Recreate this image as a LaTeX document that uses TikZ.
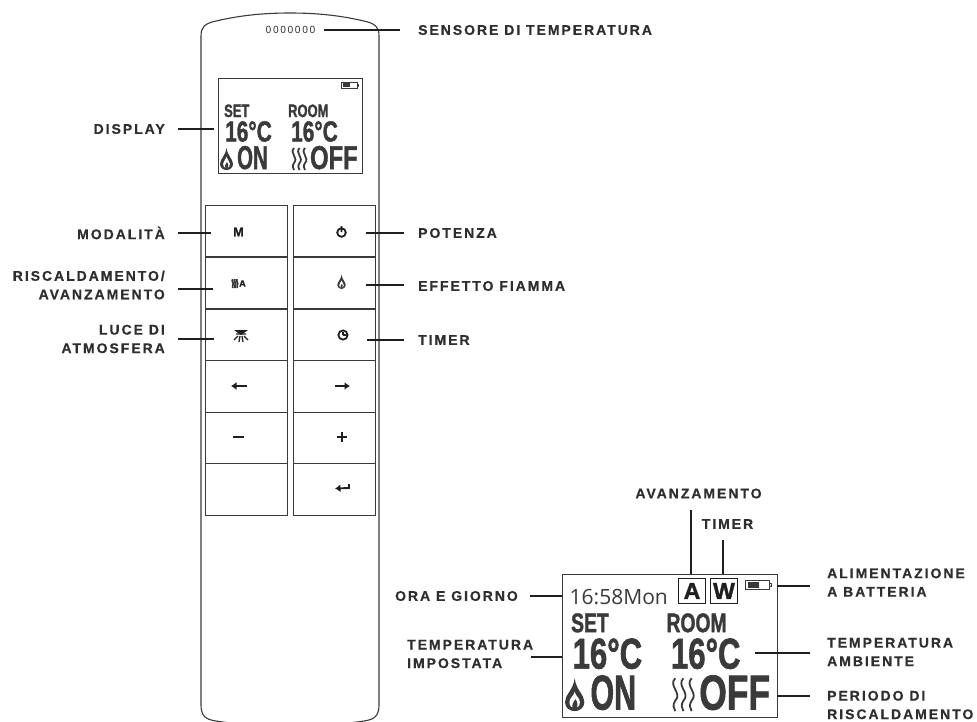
\documentclass[tikz,border=0pt]{standalone}
\usepackage{fontspec}
\usepackage{tikz}
\usetikzlibrary{arrows.meta,calc,positioning}
\setmainfont{Liberation Sans}
\newfontfamily\calloutfont[LetterSpace=14,BoldFeatures={FakeBold=0.5}]{Liberation Sans}
\newfontfamily\clockfont{Open Sans}
\newfontfamily\lcdfont[BoldFeatures={FakeBold=1.6}]{Liberation Sans}
\definecolor{RemoteInk}{HTML}{1F1F1F}
\definecolor{RemoteLine}{HTML}{3A3A3A}
\definecolor{RemoteLabel}{HTML}{2E2E2E}
\begin{document}
\begin{tikzpicture}[
      x=1pt,y=-1pt,
      callout/.style={inner sep=0pt,text=RemoteLabel,font=\calloutfont\bfseries\fontsize{14}{18.5}\selectfont},
      leader/.style={draw=RemoteInk,line width=1.5pt},
      keybox/.style={draw=RemoteLine,line width=0.9pt,minimum width=82pt,minimum height=51.5pt,inner sep=0pt},
      screen/.style={draw=RemoteLine,line width=1pt,anchor=north west,inner sep=0pt},
      digits/.style={anchor=base west,inner sep=0pt,transform shape,xscale=0.72,text=RemoteLine,font=\lcdfont\bfseries\fontsize{#1}{#1}\selectfont},
      tag/.style={draw=RemoteInk,line width=1.2pt,minimum width=27pt,minimum height=25pt,inner sep=0pt,text=RemoteInk,font=\lcdfont\bfseries\fontsize{23}{23}\selectfont},
      flame/.pic={
        \fill[RemoteLine] (0,-22) .. controls (1,-14) and (6.5,-11) .. (6.5,-6) .. controls (6.5,-2) and (3,0) .. (0,0) .. controls (-3,0) and (-6.5,-2) .. (-6.5,-6) .. controls (-6.5,-11) and (-1,-14) .. (0,-22) -- cycle;
        \fill[white] (0,-13) .. controls (0.5,-10) and (3.5,-9) .. (3.5,-6) .. controls (3.5,-3.5) and (2,-2) .. (0,-2) .. controls (-2,-2) and (-3.5,-3.5) .. (-3.5,-6) .. controls (-3.5,-9) and (-0.5,-10) .. (0,-13) -- cycle;
        \fill[RemoteLine] (0.5,-8) .. controls (2,-6) and (2.5,-4.5) .. (1,-1.5) -- (-1,-1.5) .. controls (-2.5,-3.5) and (-1,-6) .. (0.5,-8) -- cycle;
      },
      heat/.pic={
        \foreach \wavex in {0,5.5,11}
          \draw[RemoteLine,line width=1.8pt] (\wavex+2,-22) .. controls (\wavex-3,-17) and (\wavex+7,-12) .. (\wavex+2,-7) .. controls (\wavex,-4) and (\wavex+1,-2) .. (\wavex+2,0);
      },
      readout/.pic={
        \node[digits=18] (-set) at (6,39) {SET};
        \node[digits=18] (-room) at (70,39) {ROOM};
        \node[digits=29] (-setval) at (7,63.5) {16°C};
        \node[digits=29] (-roomval) at (73,63.5) {16°C};
        \node[digits=33,xscale=0.86] (-on) at (19,91) {ON};
        \node[digits=33] (-off) at (92,91) {OFF};
        \pic at (8.5,92) {flame};
        \pic at (74,92) {heat};
        \draw[RemoteLine,line width=0.7pt] (123,4) rectangle (139,10.5) (139,6) -- (140.5,6) -- (140.5,8.5) -- (139,8.5);
        \fill[RemoteLine] (124.5,5.2) rectangle (132,9.3);
      }
    ]
      \useasboundingbox (0,0) rectangle (977,721);

      % remote body
      \draw[RemoteLine,line width=1.1pt] (230,723) .. controls (212,720) and (201,722) .. (201,705) -- (201,36)
        .. controls (201,26) and (206,24) .. (212,22) .. controls (240,15) and (265,13) .. (290,13)
        .. controls (315,13) and (340,15) .. (368,22) .. controls (374,24) and (379,26) .. (379,36) -- (379,705)
        .. controls (379,722) and (368,720) .. (350,723);
      \node[inner sep=0pt,font=\clockfont\fontsize{10}{10}\selectfont,text=RemoteInk] (sensor) at (290.5,30) {0\kern1.6pt 0\kern1.6pt 0\kern1.6pt 0\kern1.6pt 0\kern1.6pt 0\kern1.6pt 0};

      % small display
      \node[screen,minimum width=144pt,minimum height=95pt] (smallscreen) at (218,78) {};
      \pic (small) at (218,78) {readout};

      % keys
      \node[keybox] (keymode) at (246.5,231) {};
      \node[keybox] (keyheat) at (246.5,283) {};
      \node[keybox] (keylight) at (246.5,335) {};
      \node[keybox] (keyleft) at (246.5,386.5) {};
      \node[keybox] (keyminus) at (246.5,438) {};
      \node[keybox] (keyblank) at (246.5,489.5) {};
      \node[keybox] (keypower) at (334,231) {};
      \node[keybox] (keyflame) at (334,283) {};
      \node[keybox] (keytimer) at (334,335) {};
      \node[keybox] (keyright) at (334,386.5) {};
      \node[keybox] (keyplus) at (334,438) {};
      \node[keybox] (keyenter) at (334,489.5) {};

      % key symbols
      \node[inner sep=0pt,text=RemoteInk,font=\lcdfont\bfseries\fontsize{12.5}{12}\selectfont] (modeglyph) at (238.5,232) {M};
      \pic[scale=0.4] at (232,288) {heat};
      \node[inner sep=0pt,text=RemoteInk,font=\lcdfont\bfseries\fontsize{9}{9}\selectfont] (heatglyph) at (242.5,283.5) {A};
      \draw[RemoteInk,line width=1.8pt] (341.5,232.5) circle (4.3pt) (341.5,226) -- (341.5,232);
      \pic[scale=0.65] at (341.5,289) {flame};
      \fill[RemoteInk] (234,330) -- (248,330) -- (241,335) -- cycle;
      \draw[RemoteInk,line width=1.3pt] (236,334) -- (246,334) (238,336) -- (234,340) (240,336) -- (239,342) (242,336) -- (243,342) (244,336) -- (248,340);
      \draw[RemoteInk,line width=1.8pt] (343,335) circle (4.6pt) (343,335) -- (343,332) (343,335) -- (346,335);
      \draw[RemoteInk,line width=1.9pt,-{Latex[length=5.5pt,width=8pt]}] (247,386) -- (231,386);
      \draw[RemoteInk,line width=1.9pt,-{Latex[length=5.5pt,width=8pt]}] (335,386) -- (350,386);
      \draw[RemoteInk,line width=1.7pt] (233,437) -- (244,437);
      \draw[RemoteInk,line width=1.7pt] (337,437) -- (347,437) (342,432) -- (342,442);
      \draw[RemoteInk,line width=1.9pt,-{Latex[length=5.5pt,width=8pt]}] (349,484) -- (349,488) -- (335,488.5);

      % large display
      \node[screen,minimum width=215pt,minimum height=143pt] (bigscreen) at (562,574) {};
      \pic[scale=1.49,transform shape] (big) at (562,574) {readout};
      \node[anchor=base west,inner sep=0pt,text=RemoteLine,font=\clockfont\fontsize{21}{21}\selectfont] (clock) at (569.5,604) {16:58Mon};
      \node[tag] (tagA) at (692,591) {A};
      \node[tag] (tagW) at (724,591) {W};

      % labels on the left
      \node[callout,anchor=east] (displaylabel) at (165,129) {DISPLAY};
      \node[callout,anchor=east] (modelabel) at (165,233) {MODALITÀ};
      \node[callout,anchor=east,align=right] (heatlabel) at (165,285) {RISCALDAMENTO/\\AVANZAMENTO};
      \node[callout,anchor=east,align=right] (lightlabel) at (165,339) {LUCE DI\\ATMOSFERA};

      % labels on the right
      \node[callout,anchor=west] (sensorlabel) at (418,30) {SENSORE DI TEMPERATURA};
      \node[callout,anchor=west] (powerlabel) at (418,233) {POTENZA};
      \node[callout,anchor=west] (flamelabel) at (418,286) {EFFETTO FIAMMA};
      \node[callout,anchor=west] (timerlabel) at (418,340) {TIMER};

      % labels round the large display
      \node[callout] (stepupper) at (698.5,493.5) {AVANZAMENTO};
      \node[callout] (timerupper) at (727.5,524) {TIMER};
      \node[callout,anchor=west,align=left] (batterylabel) at (827,582.5) {ALIMENTAZIONE\\A BATTERIA};
      \node[callout,anchor=east] (clocklabel) at (518,596) {ORA E GIORNO};
      \node[callout,anchor=west,align=left] (setlabel) at (407,654) {TEMPERATURA\\IMPOSTATA};
      \node[callout,anchor=west,align=left] (roomlabel) at (827,652) {TEMPERATURA\\AMBIENTE};
      \node[callout,anchor=west,align=left] (periodlabel) at (827,705) {PERIODO DI\\RISCALDAMENTO};

      % leader ends
      \coordinate (displaytip) at (214,129);
      \coordinate (modetip) at (211,233);
      \coordinate (heattip) at (213,289);
      \coordinate (lighttip) at (214,339);
      \coordinate (sensortip) at (324,30);
      \coordinate (powertip) at (366,233);
      \coordinate (flametip) at (366,285);
      \coordinate (timertip) at (367,340);
      \coordinate (batterytip) at (777,586);
      \coordinate (roomtip) at (755,653);
      \coordinate (periodtip) at (777,696);
      \coordinate (setstart) at (531,657);
      \coordinate (steptop) at (691,510);
      \coordinate (timertop) at (723,540);

      \draw[leader,shorten <=13pt] (displaylabel.east |- displaytip) -- (displaytip);
      \draw[leader,shorten <=13pt] (modelabel.east |- modetip) -- (modetip);
      \draw[leader,shorten <=13pt] (heatlabel.east |- heattip) -- (heattip);
      \draw[leader,shorten <=13pt] (lightlabel.east |- lighttip) -- (lighttip);
      \draw[leader,shorten <=18pt] (sensorlabel.west |- sensortip) -- (sensortip);
      \draw[leader,shorten <=14pt] (powerlabel.west |- powertip) -- (powertip);
      \draw[leader,shorten <=14pt] (flamelabel.west |- flametip) -- (flametip);
      \draw[leader,shorten <=14pt] (timerlabel.west |- timertip) -- (timertip);
      \draw[leader] (steptop) -- (steptop |- bigscreen.north);
      \draw[leader] (timertop) -- (timertop |- bigscreen.north);
      \draw[leader,shorten <=17pt] (batterylabel.west |- batterytip) -- (batterytip);
      \draw[leader,shorten <=12pt] (clocklabel.east) -- (clocklabel.east -| bigscreen.west);
      \draw[leader] (setstart) -- (setstart -| bigscreen.west);
      \draw[leader,shorten <=17pt] (roomlabel.west |- roomtip) -- (roomtip);
      \draw[leader,shorten <=17pt] (periodlabel.west |- periodtip) -- (periodtip);
    \end{tikzpicture}
\end{document}
